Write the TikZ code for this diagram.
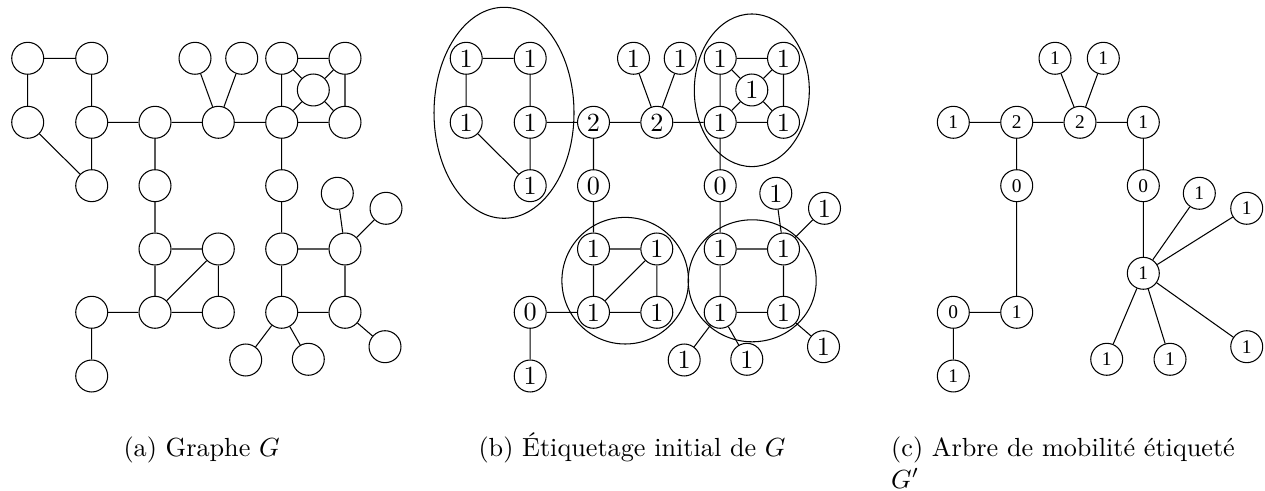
\documentclass[tikz,border=0pt]{standalone}
\usepackage{fontspec}
\newfontfamily\treefont{Liberation Serif}

% vertex labels are printed only when the switch is on
\newif\ifshowlab
\newcommand\lab[1]{\ifshowlab#1\fi}

\tikzset{
  vtx/.style={circle,draw,inner sep=0pt,minimum size=12.2pt,
    font=\fontsize{10}{12}\selectfont},
  tvtx/.style={circle,draw,inner sep=0pt,minimum size=12.2pt,
    font=\treefont\fontsize{7.4}{9}\selectfont},
  grp/.style={draw},
  subcap/.style={anchor=base west,inner sep=0pt,font=\fontsize{10}{12}\selectfont},
}

% the graph G, drawn in the current scope
\newcommand\graphG{%
  \node[vtx] (A)  at (27.7,58.3)  {\lab{1}};
  \node[vtx] (B)  at (91.7,58.3)  {\lab{1}};
  \node[vtx] (C1) at (195,58.3)   {\lab{1}};
  \node[vtx] (C2) at (241.7,58.3) {\lab{1}};
  \node[vtx] (D)  at (281.7,58.3) {\lab{1}};
  \node[vtx] (E)  at (345,58.3)   {\lab{1}};
  \node[vtx] (F)  at (313.3,90)   {\lab{1}};
  \node[vtx] (G)  at (27.7,122.3) {\lab{1}};
  \node[vtx] (H)  at (91.7,122.3) {\lab{1}};
  \node[vtx] (I)  at (155,122.3)  {\lab{2}};
  \node[vtx] (J)  at (218.3,122.3){\lab{2}};
  \node[vtx] (K)  at (281.7,122.3){\lab{1}};
  \node[vtx] (L)  at (345,122.3)  {\lab{1}};
  \node[vtx] (M)  at (91.7,185.7) {\lab{1}};
  \node[vtx] (N)  at (155,185.7)  {\lab{0}};
  \node[vtx] (O)  at (281.7,185.7){\lab{0}};
  \node[vtx] (P)  at (337.3,193.3){\lab{1}};
  \node[vtx] (Q)  at (386,208.3)  {\lab{1}};
  \node[vtx] (R)  at (155,249)    {\lab{1}};
  \node[vtx] (S)  at (218.3,249)  {\lab{1}};
  \node[vtx] (T)  at (281.7,249)  {\lab{1}};
  \node[vtx] (U)  at (345,249)    {\lab{1}};
  \node[vtx] (V)  at (91.7,312.3) {\lab{0}};
  \node[vtx] (W)  at (155,312.3)  {\lab{1}};
  \node[vtx] (X)  at (218.3,312.3){\lab{1}};
  \node[vtx] (Y)  at (281.7,312.3){\lab{1}};
  \node[vtx] (Z)  at (345,312.3)  {\lab{1}};
  \node[vtx] (AA) at (91.7,376)   {\lab{1}};
  \node[vtx] (AB) at (245.7,360)  {\lab{1}};
  \node[vtx] (AC) at (308.3,359.3){\lab{1}};
  \node[vtx] (AD) at (385,346.7)  {\lab{1}};
  \draw (A) -- (B)  (A) -- (G)  (B) -- (H)  (G) -- (M)  (H) -- (M)
        (H) -- (I)  (I) -- (J)  (J) -- (C1) (J) -- (C2) (J) -- (K)
        (K) -- (D)  (K) -- (L)  (D) -- (E)  (E) -- (L)
        (D) -- (F)  (E) -- (F)  (K) -- (F)  (L) -- (F)
        (K) -- (O)  (I) -- (N)  (N) -- (R)  (R) -- (S)  (R) -- (W)
        (S) -- (W)  (S) -- (X)  (W) -- (X)  (V) -- (W)  (V) -- (AA)
        (O) -- (T)  (T) -- (U)  (U) -- (P)  (U) -- (Q)  (T) -- (Y)
        (U) -- (Z)  (Y) -- (Z)  (Y) -- (AB) (Y) -- (AC) (Z) -- (AD);
}

\begin{document}
\begin{tikzpicture}[x=0.3817pt,y=-0.3817pt]
  \useasboundingbox (0,0) rectangle (1265,491);

  % (a) the bare graph
  \begin{scope}[name prefix=a-]
    \showlabfalse
    \graphG
  \end{scope}

  % (b) the same graph with its initial labels and the groups found
  \begin{scope}[shift={(438.5,0)},name prefix=b-]
    \showlabtrue
    \graphG
    \draw[grp] (65.5,112.8)  ellipse [x radius=70,   y radius=105.5];
    \draw[grp] (313.3,90.3)  ellipse [x radius=57.5, y radius=76.3];
    \draw[grp] (186.7,280.7) ellipse [x radius=63.3, y radius=63.3];
    \draw[grp] (313.7,280.8) ellipse [x radius=64,   y radius=61];
  \end{scope}

  % (c) the labelled mobility tree
  \begin{scope}[name prefix=c-]
    \node[tvtx] (a) at (953.3,122.3)  {1};
    \node[tvtx] (b) at (1016.7,122.3) {2};
    \node[tvtx] (c) at (1080,122.3)   {2};
    \node[tvtx] (d) at (1143.3,122.3) {1};
    \node[tvtx] (e) at (1055,58.3)    {1};
    \node[tvtx] (f) at (1103.3,58.3)  {1};
    \node[tvtx] (g) at (1016.7,185.7) {0};
    \node[tvtx] (h) at (1143.3,185.7) {0};
    \node[tvtx] (i) at (1199.3,193.3) {1};
    \node[tvtx] (j) at (1246.7,208.3) {1};
    \node[tvtx] (k) at (1143.3,273.3) {1};
    \node[tvtx] (l) at (953.3,312.3)  {0};
    \node[tvtx] (m) at (1016.7,312.3) {1};
    \node[tvtx] (n) at (953.3,376)    {1};
    \node[tvtx] (o) at (1106.7,359.3) {1};
    \node[tvtx] (p) at (1170,359.3)   {1};
    \node[tvtx] (q) at (1246.7,346.7) {1};
    \draw (a) -- (b)  (b) -- (c)  (c) -- (d)  (c) -- (e)  (c) -- (f)
          (b) -- (g)  (g) -- (m)  (m) -- (l)  (l) -- (n)
          (d) -- (h)  (h) -- (k)  (k) -- (i)  (k) -- (j)
          (k) -- (o)  (k) -- (p)  (k) -- (q);
  \end{scope}

  % sub-captions
  \node[subcap] (capa)  at (123,456.5)   {(a) Graphe $G$};
  \node[subcap] (capb)  at (478,456.5)   {(b) Étiquetage initial de $G$};
  \node[subcap] (capc)  at (890.7,456.5) {(c) Arbre de mobilité étiqueté};
  \node[subcap] (capc2) at (890.7,488.5) {$G'$};
\end{tikzpicture}
\end{document}
